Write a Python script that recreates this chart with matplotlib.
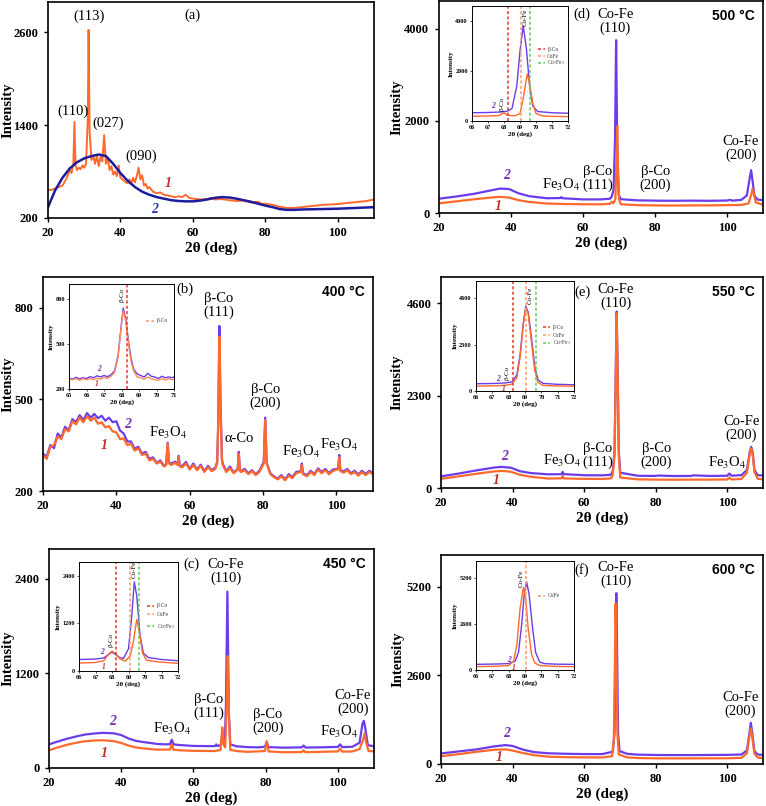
import matplotlib
matplotlib.use('Agg')
import matplotlib.pyplot as plt

plt.rcParams['font.family'] = ['Liberation Serif', 'DejaVu Serif']
plt.rcParams['mathtext.fontset'] = 'stix'

W, H = 766, 806
ORANGE = '#FF6A2C'
PURPLE = '#6B3CEB'
DARKBLUE = '#1C1C9C'
RED1 = '#C0302A'
PURP2 = '#7A2FB5'

# ---------------- panel (a): as-prepared ----------------
a1_pts = [(20, 560), (21, 565), (22, 580), (23, 600), (24, 620), (25, 700), (25.5, 760), (26, 820),
          (26.5, 780), (27, 900), (27.3, 1440), (27.6, 880), (28, 820), (28.5, 850), (29, 830),
          (29.5, 880), (30, 850), (30.5, 900), (31, 1500), (31.2, 2630), (31.5, 1300), (32, 950),
          (32.5, 1000), (33, 900), (33.5, 1010), (34, 870), (34.5, 990), (35, 930), (35.5, 1270),
          (36, 900), (36.5, 980), (37, 820), (37.5, 870), (38, 760), (38.5, 800), (39, 740),
          (39.5, 880), (40, 720), (40.5, 700), (41, 680), (41.5, 660), (42, 650), (42.5, 700),
          (43, 640), (43.5, 720), (44, 660), (44.5, 740), (45, 850), (45.5, 700), (46, 750),
          (46.5, 620), (47, 640), (47.5, 580), (48, 600), (49, 540), (50, 520), (51, 530), (52, 500),
          (53, 490), (54, 480), (55, 470), (56, 480), (57, 470), (58, 500), (59, 460), (60, 450),
          (62, 440), (64, 445), (65, 460), (66, 440), (68, 445), (70, 430), (72, 420), (74, 425),
          (76, 400), (78, 410), (79, 380), (80, 385), (82, 370), (84, 345), (86, 330), (88, 330),
          (90, 340), (92, 350), (94, 360), (96, 370), (98, 375), (100, 380), (102, 390), (104, 400),
          (106, 410), (108, 420), (110, 440)]
a2_pts = [(20, 340), (22, 560), (24, 720), (26, 840), (28, 920), (30, 970), (32, 1000), (34, 1020),
          (36, 1000), (38, 900), (40, 780), (42, 680), (44, 600), (46, 540), (48, 500), (50, 470),
          (52, 450), (54, 430), (56, 420), (58, 415), (60, 415), (62, 425), (64, 440), (66, 460),
          (68, 470), (70, 465), (72, 450), (74, 430), (76, 410), (78, 385), (80, 360), (82, 340),
          (84, 315), (86, 305), (88, 305), (90, 310), (95, 315), (100, 320), (105, 330), (110, 340)]

# ---------------- panel (b): 400 C ----------------
b1_pts = [(20, 318), (21, 305), (22, 345), (23, 350), (24, 378), (25, 370), (26, 402), (27, 395),
          (28, 428), (29, 418), (30, 440), (31, 425), (32, 445), (33, 430), (34, 440), (35, 420),
          (36, 425), (37, 408), (38, 412), (39, 395), (40, 392), (41, 370), (42, 372), (43, 350),
          (44, 355), (45, 332), (46, 340), (47, 318), (48, 322), (49, 300), (50, 305), (51, 290),
          (52, 296), (53, 280), (53.6, 285), (54, 355), (54.4, 290), (55, 285), (56, 292),
          (56.7, 285), (57, 312), (57.3, 280), (58, 278), (59, 290), (60, 270), (61, 285), (62, 268),
          (63, 282), (64, 262), (65, 278), (66, 265), (67, 272), (67.5, 290), (67.8, 420), (68.1, 705),
          (68.4, 480), (68.8, 300), (69, 285), (70, 262), (71, 275), (72, 258), (73.1, 270),
          (73.4, 322), (73.7, 265), (74, 262), (75, 268), (76, 255), (77, 265), (78, 252), (79, 262),
          (80.2, 290), (80.6, 432), (81, 290), (82, 255), (83, 245), (84, 238), (85, 248), (86, 235),
          (87, 250), (88, 242), (89, 258), (90.3, 262), (90.6, 285), (90.9, 255), (92, 248),
          (93, 262), (94, 252), (95, 270), (96, 258), (97, 268), (98, 255), (99, 265), (100, 270),
          (100.5, 270), (100.8, 310), (101.1, 265), (102, 260), (103, 268), (104, 255), (105, 262),
          (106, 250), (107, 262), (108, 252), (109, 262), (110, 255)]
b2_pts = [(20, 322), (21, 312), (22, 350), (23, 340), (24, 388), (25, 375), (26, 410), (27, 398),
          (28, 435), (29, 425), (30, 448), (31, 432), (32, 455), (33, 440), (34, 452), (35, 438),
          (36, 446), (37, 430), (38, 440), (39, 425), (40, 428), (41, 398), (42, 388), (43, 362),
          (44, 362), (45, 338), (46, 345), (47, 322), (48, 328), (49, 305), (50, 310), (51, 292),
          (52, 300), (53, 282), (53.6, 288), (54, 358), (54.4, 292), (55, 290), (56, 296),
          (56.7, 288), (57, 315), (57.3, 282), (58, 282), (59, 295), (60, 272), (61, 290), (62, 270),
          (63, 286), (64, 265), (65, 282), (66, 268), (67, 276), (67.5, 295), (67.8, 430), (68.1, 740),
          (68.4, 500), (68.8, 305), (69, 290), (70, 265), (71, 280), (72, 260), (73.1, 272),
          (73.4, 328), (73.7, 268), (74, 265), (75, 272), (76, 258), (77, 268), (78, 255), (79, 266),
          (80.2, 295), (80.6, 440), (81, 292), (82, 258), (83, 248), (84, 240), (85, 252), (86, 238),
          (87, 255), (88, 245), (89, 262), (90.3, 265), (90.6, 290), (90.9, 258), (92, 252),
          (93, 266), (94, 255), (95, 274), (96, 262), (97, 272), (98, 258), (99, 270), (100, 272),
          (100.5, 274), (100.8, 318), (101.1, 268), (102, 264), (103, 272), (104, 258), (105, 266),
          (106, 254), (107, 266), (108, 256), (109, 266), (110, 258)]
bi1_pts = [(65, 265), (65.2, 262), (65.4, 270), (65.6, 258), (65.8, 268), (66, 262), (66.2, 270),
           (66.4, 262), (66.6, 272), (66.8, 265), (67, 278), (67.2, 270), (67.4, 285), (67.6, 310),
           (67.8, 410), (68.0, 630), (68.1, 720), (68.25, 650), (68.4, 500), (68.55, 380), (68.7, 320),
           (68.9, 280), (69.1, 275), (69.3, 265), (69.5, 280), (69.7, 268), (69.9, 262), (70.1, 258),
           (70.3, 270), (70.5, 260), (70.7, 268), (70.9, 262), (71, 265)]
bi2_pts = [(65, 272), (65.2, 265), (65.4, 278), (65.6, 268), (65.8, 275), (66, 270), (66.2, 282),
           (66.4, 275), (66.6, 288), (66.8, 280), (67, 290), (67.2, 282), (67.4, 295), (67.6, 320),
           (67.8, 420), (68.0, 640), (68.1, 740), (68.25, 660), (68.4, 520), (68.55, 400), (68.7, 330),
           (68.9, 300), (69.1, 290), (69.3, 280), (69.5, 305), (69.7, 285), (69.9, 280), (70.1, 270),
           (70.3, 285), (70.5, 275), (70.7, 280), (70.9, 275), (71, 282)]

# ---------------- panel (c): 450 C ----------------
c1_pts = [(20, 225), (22, 255), (25, 295), (28, 325), (30, 340), (33, 350), (35, 352), (38, 340),
          (40, 318), (42, 285), (44, 262), (46, 250), (48, 240), (50, 233), (53.5, 235), (54, 300),
          (54.5, 232), (56, 225), (60, 218), (66, 215), (67.5, 230), (67.8, 400), (68.0, 515),
          (68.3, 300), (68.8, 260), (69.2, 800), (69.5, 1420), (69.8, 700), (70.2, 230), (72, 215),
          (75, 205), (79.8, 215), (80.3, 340), (80.8, 210), (85, 200), (90, 202), (90.5, 225),
          (91, 200), (95, 205), (100, 210), (100.6, 245), (101.2, 208), (104, 210), (106, 240),
          (107.0, 360), (107.4, 440), (107.8, 330), (108.5, 215), (110, 212)]
c2_pts = [(20, 300), (22, 330), (25, 372), (28, 405), (30, 425), (33, 440), (35, 446), (38, 440),
          (40, 418), (42, 375), (44, 345), (46, 330), (48, 318), (50, 305), (52, 300), (53.5, 302),
          (54, 360), (54.5, 300), (56, 292), (60, 280), (64, 278), (66, 278), (66.3, 300), (66.6, 280),
          (67.5, 290), (67.8, 360), (68.0, 460), (68.3, 330), (68.7, 330), (69.0, 800), (69.4, 2240),
          (69.8, 700), (70.2, 300), (72, 275), (75, 265), (78, 262), (79.8, 270), (80.3, 330),
          (80.8, 265), (85, 258), (90, 262), (90.5, 285), (91, 260), (95, 262), (100, 268),
          (100.6, 300), (101.2, 265), (104, 270), (106, 320), (106.8, 560), (107.2, 600),
          (107.6, 500), (108.3, 290), (110, 275)]
ci1_pts = [(66, 200), (67, 215), (67.5, 260), (67.8, 430), (68.0, 500), (68.2, 440), (68.5, 300),
           (68.8, 250), (69.1, 380), (69.3, 750), (69.5, 1300), (69.65, 1000), (69.85, 450),
           (70.1, 270), (71, 220), (72, 195)]
ci2_pts = [(66, 290), (66.5, 295), (67, 300), (67.5, 330), (67.8, 420), (68.0, 475), (68.2, 420),
           (68.5, 330), (68.7, 320), (69.0, 560), (69.2, 1400), (69.35, 2250), (69.5, 1900),
           (69.7, 900), (69.9, 450), (70.2, 340), (71, 290), (72, 260)]

# ---------------- panel (d): 500 C ----------------
d1_pts = [(20, 210), (25, 255), (30, 300), (35, 340), (37, 350), (39.5, 335), (42, 280), (45, 240),
          (50, 205), (55, 195), (60, 190), (65, 188), (67.5, 200), (68.0, 245), (68.4, 210),
          (69.0, 300), (69.3, 1200), (69.5, 1880), (69.7, 1000), (70.0, 300), (70.5, 190), (75, 170),
          (80, 165), (85, 162), (90, 165), (95, 165), (100, 170), (104, 175), (106, 210),
          (106.8, 420), (107.1, 530), (107.5, 400), (108, 230), (110, 180)]
d2_pts = [(20, 310), (25, 360), (30, 420), (35, 500), (37, 530), (39.5, 520), (42, 430), (45, 365),
          (50, 320), (53.7, 325), (54, 345), (54.3, 320), (60, 295), (65, 295), (67.5, 310),
          (68.0, 360), (68.5, 500), (68.9, 1600), (69.2, 3750), (69.5, 1500), (69.9, 400),
          (70.5, 300), (75, 275), (80, 268), (85, 265), (90, 268), (95, 265), (100, 270),
          (100.8, 285), (101.5, 268), (104, 285), (105.5, 380), (106.3, 750), (106.7, 930),
          (107.1, 700), (107.6, 380), (108.5, 290), (110, 280)]
di1_pts = [(66, 190), (67, 200), (67.7, 220), (68.0, 330), (68.2, 230), (68.7, 210), (69.0, 300),
           (69.2, 900), (69.45, 1880), (69.6, 1500), (69.8, 700), (70.0, 300), (70.4, 200),
           (71, 185), (72, 175)]
di2_pts = [(66, 330), (67, 340), (67.8, 360), (68.2, 390), (68.5, 500), (68.8, 1400), (69.0, 2800),
           (69.2, 3800), (69.4, 2900), (69.6, 1400), (69.8, 600), (70.1, 380), (71, 330), (72, 310)]

# ---------------- panel (e): 550 C ----------------
e1_pts = [(20, 230), (25, 290), (30, 355), (35, 415), (37, 425), (39.5, 405), (42, 330), (45, 280),
          (50, 235), (53.7, 240), (54, 300), (54.3, 238), (60, 228), (65, 225), (67.5, 240),
          (68.0, 320), (68.5, 800), (68.8, 2500), (69.1, 4350), (69.4, 2600), (69.7, 800),
          (70.1, 260), (75, 215), (80, 208), (85, 206), (90, 208), (95, 208), (100, 212),
          (100.6, 260), (101.2, 212), (104, 225), (105.5, 380), (106.3, 850), (106.7, 985),
          (107.1, 850), (107.6, 400), (108.5, 230), (110, 215)]
e2_pts = [(20, 290), (25, 360), (30, 440), (35, 510), (37, 525), (39.5, 505), (42, 420), (45, 372),
          (50, 340), (53.7, 345), (54, 400), (54.3, 345), (60, 318), (65, 315), (67.5, 330),
          (68.0, 420), (68.5, 900), (68.8, 2600), (69.1, 4390), (69.4, 2800), (69.7, 900),
          (70.1, 380), (75, 305), (80, 300), (80.5, 310), (85, 298), (90, 300), (90.5, 315),
          (95, 300), (100, 305), (100.6, 360), (101.2, 305), (104, 320), (105.5, 450), (106.3, 900),
          (106.7, 1025), (107.1, 900), (107.6, 450), (108.5, 320), (110, 310)]
ei1_pts = [(66, 240), (67, 255), (67.8, 280), (68.2, 340), (68.5, 650), (68.7, 1700), (68.9, 3300),
           (69.05, 4130), (69.2, 3800), (69.4, 2400), (69.6, 1000), (69.8, 420), (70.1, 280),
           (71, 250), (72, 240)]
ei2_pts = [(66, 360), (67, 370), (67.8, 400), (68.2, 450), (68.5, 800), (68.7, 1800), (68.9, 3400),
           (69.05, 4200), (69.2, 3900), (69.4, 2600), (69.6, 1200), (69.8, 550), (70.1, 380),
           (71, 330), (72, 310)]

# ---------------- panel (f): 600 C ----------------
f1_pts = [(20, 230), (25, 290), (30, 360), (35, 420), (38, 430), (40, 395), (43, 320), (46, 260),
          (50, 215), (55, 200), (60, 195), (65, 192), (67.8, 230), (68.3, 700), (68.6, 3000),
          (68.8, 4710), (69.0, 3400), (69.3, 900), (69.7, 280), (72, 195), (75, 175), (80, 166),
          (85, 164), (90, 165), (95, 166), (100, 168), (104, 180), (105.5, 320), (106.2, 800),
          (106.6, 1045), (107.0, 780), (107.6, 300), (108.5, 190), (110, 170)]
f2_pts = [(20, 310), (25, 370), (30, 430), (35, 520), (38, 555), (40, 530), (43, 420), (46, 350),
          (50, 315), (55, 300), (60, 292), (65, 290), (68, 360), (68.5, 900), (68.8, 3500),
          (69.0, 5020), (69.2, 3500), (69.5, 900), (69.9, 380), (72, 300), (75, 275), (80, 265),
          (85, 262), (90, 262), (95, 265), (100, 268), (104, 280), (105.5, 400), (106.2, 900),
          (106.6, 1210), (107.0, 900), (107.6, 380), (108.5, 280), (110, 265)]
fi1_pts = [(66, 190), (67, 210), (68, 250), (68.3, 500), (68.5, 1400), (68.7, 3500), (68.9, 4680),
           (69.05, 4000), (69.2, 2300), (69.4, 900), (69.6, 400), (69.9, 250), (71, 200), (72, 190)]
fi2_pts = [(66, 320), (67, 335), (68, 360), (68.4, 500), (68.6, 1000), (68.8, 2600), (68.95, 4300),
           (69.1, 5000), (69.25, 4300), (69.45, 2500), (69.65, 1000), (69.9, 450), (70.2, 360),
           (71, 330), (72, 320)]

# reference lines in the insets
ref_names = ['β-Co', 'CoFe', 'Co$_7$Fe$_3$']
ref_pos = [68.27, 69.07, 69.65]
ref_colors = ['#E8352C', '#FF9A6A', '#5FCB5F']


def px_axes(fig, l, t, r, b):
    return fig.add_axes([l / W, 1 - b / H, (r - l) / W, (b - t) / H])


def curve(ax, pts, color, lw):
    xs = [p[0] for p in pts]
    ys = [p[1] for p in pts]
    ax.plot(xs, ys, color=color, lw=lw, solid_joinstyle='round')


def main_panel(ax, ylim, yticks, label_x):
    ax.set_xlim(20, 110)
    ax.set_ylim(*ylim)
    ax.set_xticks([20, 40, 60, 80, 100])
    ax.set_yticks(yticks)
    ax.tick_params(labelsize=9, length=3, width=1, direction='out')
    ax.tick_params(axis='y', pad=4)
    for lab in ax.get_xticklabels() + ax.get_yticklabels():
        lab.set_fontweight('bold')
    for s in ax.spines.values():
        s.set_linewidth(1.2)
    ax.set_xlabel('2θ (deg)', fontsize=11, fontweight='bold', labelpad=2)
    ax.set_ylabel('Intensity', fontsize=10.5, fontweight='bold')
    # label_x is the figure pixel column of the label's right edge
    bb = ax.get_position()
    ax.yaxis.set_label_coords((label_x / W - bb.x0) / bb.width, 0.5)


def inset_panel(ax, xlim, ylim, yticks):
    ax.set_xlim(*xlim)
    ax.set_ylim(*ylim)
    ax.set_xticks(range(xlim[0], xlim[1] + 1))
    ax.set_yticks(yticks)
    ax.tick_params(labelsize=4.5, length=1.5, width=0.5, pad=1.5)
    for lab in ax.get_xticklabels() + ax.get_yticklabels():
        lab.set_fontweight('bold')
    for s in ax.spines.values():
        s.set_linewidth(0.7)
    ax.set_xlabel('2θ (deg)', fontsize=5, fontweight='bold', labelpad=1)
    ax.set_ylabel('Intensity', fontsize=5, fontweight='bold', labelpad=1)


def ref_lines(ax, idx, legend_y, lx):
    for k, yy in zip(idx, legend_y):
        ax.axvline(ref_pos[k], color=ref_colors[k], ls=(0, (2, 1.5)), lw=1.1)
        ax.plot([lx, lx + 0.45], [yy, yy], color=ref_colors[k], ls=(0, (2, 1.5)), lw=1.1)
        ax.text(lx + 0.6, yy, ref_names[k], fontsize=4, va='center', color='#333333')


def two_line(ax, x, y, s):
    ax.text(x, y, s, fontsize=10.5, ha='center', va='center', linespacing=1.05)


def temp(ax, s):
    ax.text(0.975, 0.93, s, transform=ax.transAxes, ha='right', va='center', fontsize=10,
            fontweight='bold', family='Liberation Sans')


def numlabels(ax, p1, p2, c2=PURP2, fs=10):
    ax.text(p1[0], p1[1], '1', color=RED1, fontsize=fs, style='italic', fontweight='bold',
            ha='center', va='center')
    ax.text(p2[0], p2[1], '2', color=c2, fontsize=fs, style='italic', fontweight='bold',
            ha='center', va='center')


fig = plt.figure(figsize=(W / 100, H / 100), dpi=100)

# (a)
ax = px_axes(fig, 48, 2, 374, 218)
curve(ax, a1_pts, ORANGE, 1.4)
curve(ax, a2_pts, DARKBLUE, 1.8)
main_panel(ax, (200, 2990), [200, 1400, 2600], 14)
ax.text(31.2, 2800, '(113)', fontsize=10.5, ha='center', va='center')
ax.text(26.8, 1573, '(110)', fontsize=10.5, ha='center', va='center')
ax.text(36.5, 1420, '(027)', fontsize=10.5, ha='center', va='center')
ax.text(45.7, 1003, '(090)', fontsize=10.5, ha='center', va='center')
ax.text(59.8, 2825, '(a)', fontsize=10.5, ha='center', va='center')
numlabels(ax, (53.1, 645), (49.4, 308), c2='#2F35A8')

# (b)
ax = px_axes(fig, 43, 277, 373, 491)
curve(ax, b2_pts, PURPLE, 1.6)
curve(ax, b1_pts, ORANGE, 1.6)
main_panel(ax, (200, 900), [200, 500, 800], 14)
ax.text(58.6, 860, '(b)', fontsize=10.5, ha='center', va='center')
temp(ax, '400 °C')
two_line(ax, 68, 808, 'β-Co\n(111)')
two_line(ax, 80.6, 508, 'β-Co\n(200)')
ax.text(54.1, 389, 'Fe$_3$O$_4$', fontsize=10.5, ha='center', va='center')
ax.text(73.6, 372, 'α-Co', fontsize=10.5, ha='center', va='center')
ax.text(90.5, 328, 'Fe$_3$O$_4$', fontsize=10.5, ha='center', va='center')
ax.text(100.9, 350, 'Fe$_3$O$_4$', fontsize=10.5, ha='center', va='center')
numlabels(ax, (36.6, 350), (43.2, 416))

ax = px_axes(fig, 69, 284, 174, 389)
curve(ax, bi2_pts, PURPLE, 1.0)
curve(ax, bi1_pts, '#FF8A5A', 1.0)
inset_panel(ax, (65, 71), (200, 900), [200, 500, 800])
ax.axvline(68.3, color='#E8352C', ls=(0, (2, 1.5)), lw=1.1)
ax.plot([69.4, 69.85], [655, 655], color='#FF9A6A', ls=(0, (2, 1.5)), lw=1.1)
ax.text(70.0, 655, 'β-Co', fontsize=4, va='center', color='#333333')
ax.text(68.05, 830, 'β-Co', fontsize=5, rotation=90, ha='center', va='center')
ax.text(66.6, 322, '2', fontsize=5.5, color=PURP2, style='italic', fontweight='bold')
ax.text(66.5, 222, '1', fontsize=5.5, color=RED1, style='italic', fontweight='bold')

# (c)
ax = px_axes(fig, 49, 549, 374, 768)
curve(ax, c2_pts, PURPLE, 1.6)
curve(ax, c1_pts, ORANGE, 1.6)
main_panel(ax, (0, 2780), [0, 1200, 2400], 14)
ax.text(59.4, 2584, '(c)', fontsize=10.5, ha='center', va='center')
temp(ax, '450 °C')
two_line(ax, 69, 2492, 'Co-Fe\n(110)')
two_line(ax, 64.2, 778, 'β-Co\n(111)')
two_line(ax, 80.6, 586, 'β-Co\n(200)')
two_line(ax, 104.2, 837, 'Co-Fe\n(200)')
ax.text(54, 500, 'Fe$_3$O$_4$', fontsize=10.5, ha='center', va='center')
ax.text(100.4, 459, 'Fe$_3$O$_4$', fontsize=10.5, ha='center', va='center')
numlabels(ax, (35.2, 183), (37.7, 595))

ax = px_axes(fig, 79, 562, 178, 671)
curve(ax, ci2_pts, PURPLE, 1.0)
curve(ax, ci1_pts, ORANGE, 1.0)
inset_panel(ax, (66, 72), (0, 2750), [0, 1200, 2400])
ref_lines(ax, [0, 1, 2], [1650, 1430, 1130], 70.1)
ax.text(67.95, 780, 'β-Co', fontsize=5, rotation=90, ha='center', va='center')
ax.text(69.33, 2560, 'Co-Fe', fontsize=5, rotation=90, ha='center', va='center')
ax.text(67.3, 430, '2', fontsize=5.5, color=PURP2, style='italic', fontweight='bold')
ax.text(67.4, 40, '1', fontsize=5.5, color=RED1, style='italic', fontweight='bold')

# (d)
ax = px_axes(fig, 439, 1, 763, 213)
curve(ax, d2_pts, PURPLE, 1.6)
curve(ax, d1_pts, ORANGE, 1.6)
main_panel(ax, (0, 4600), [0, 2000, 4000], 403)
ax.text(59.6, 4311, '(d)', fontsize=10.5, ha='center', va='center')
temp(ax, '500 °C')
two_line(ax, 69, 4166, 'Co-Fe\n(110)')
two_line(ax, 64, 748, 'β-Co\n(111)')
two_line(ax, 80.1, 748, 'β-Co\n(200)')
two_line(ax, 103.9, 1392, 'Co-Fe\n(200)')
ax.text(53.8, 618, 'Fe$_3$O$_4$', fontsize=10.5, ha='center', va='center')
numlabels(ax, (36.3, 145), (38.8, 807))

ax = px_axes(fig, 472, 6, 568, 121)
curve(ax, di2_pts, PURPLE, 1.0)
curve(ax, di1_pts, ORANGE, 1.0)
inset_panel(ax, (66, 72), (0, 4600), [0, 2000, 4000])
ref_lines(ax, [0, 1, 2], [2880, 2600, 2320], 70.1)
ax.text(67.9, 700, 'β-Co', fontsize=5, rotation=90, ha='center', va='center')
ax.text(69.3, 4150, 'Co-Fe', fontsize=5, rotation=90, ha='center', va='center')
ax.text(67.2, 520, '2', fontsize=5.5, color=PURP2, style='italic', fontweight='bold')

# (e)
ax = px_axes(fig, 441, 277, 763, 488)
curve(ax, e2_pts, PURPLE, 1.6)
curve(ax, e1_pts, ORANGE, 1.6)
main_panel(ax, (0, 5250), [0, 2300, 4600], 403)
ax.text(59.5, 4867, '(e)', fontsize=10.5, ha='center', va='center')
temp(ax, '550 °C')
two_line(ax, 68.8, 4767, 'Co-Fe\n(110)')
two_line(ax, 63.7, 815, 'β-Co\n(111)')
two_line(ax, 80.2, 815, 'β-Co\n(200)')
two_line(ax, 104, 1490, 'Co-Fe\n(200)')
ax.text(54, 674, 'Fe$_3$O$_4$', fontsize=10.5, ha='center', va='center')
ax.text(100, 632, 'Fe$_3$O$_4$', fontsize=10.5, ha='center', va='center')
numlabels(ax, (35.5, 191), (37.7, 774))

ax = px_axes(fig, 476, 281, 574, 391)
curve(ax, ei2_pts, PURPLE, 1.0)
curve(ax, ei1_pts, ORANGE, 1.0)
inset_panel(ax, (66, 72), (0, 5450), [0, 2300, 4600])
ref_lines(ax, [0, 1, 2], [3170, 2770, 2380], 70.1)
ax.text(67.9, 900, 'β-Co', fontsize=5, rotation=90, ha='center', va='center')
ax.text(69.35, 4750, 'Co-Fe', fontsize=5, rotation=90, ha='center', va='center')
ax.text(67.2, 520, '2', fontsize=5.5, color=PURP2, style='italic', fontweight='bold')
ax.text(67.6, 20, '1', fontsize=5.5, color=RED1, style='italic', fontweight='bold')

# (f)
ax = px_axes(fig, 441, 555, 763, 764)
curve(ax, f2_pts, PURPLE, 1.6)
curve(ax, f1_pts, ORANGE, 1.6)
main_panel(ax, (0, 6140), [0, 2600, 5200], 404)
ax.text(59.3, 5706, '(f)', fontsize=10.5, ha='center', va='center')
temp(ax, '600 °C')
two_line(ax, 68.8, 5564, 'Co-Fe\n(110)')
two_line(ax, 103.7, 1754, 'Co-Fe\n(200)')
numlabels(ax, (36.3, 195), (38.3, 899))

ax = px_axes(fig, 476, 561, 574, 670)
curve(ax, fi2_pts, PURPLE, 1.0)
curve(ax, fi1_pts, ORANGE, 1.0)
inset_panel(ax, (66, 72), (0, 6180), [0, 2600, 5200])
ref_lines(ax, [1], [4220], 69.8)
ax.text(68.8, 5200, 'Co-Fe', fontsize=5, rotation=90, ha='center', va='center')
ax.text(67.9, 450, '2', fontsize=5.5, color=PURP2, style='italic', fontweight='bold')
ax.text(68.2, 20, '1', fontsize=5.5, color=RED1, style='italic', fontweight='bold')

fig.savefig('out.png', dpi=100)
